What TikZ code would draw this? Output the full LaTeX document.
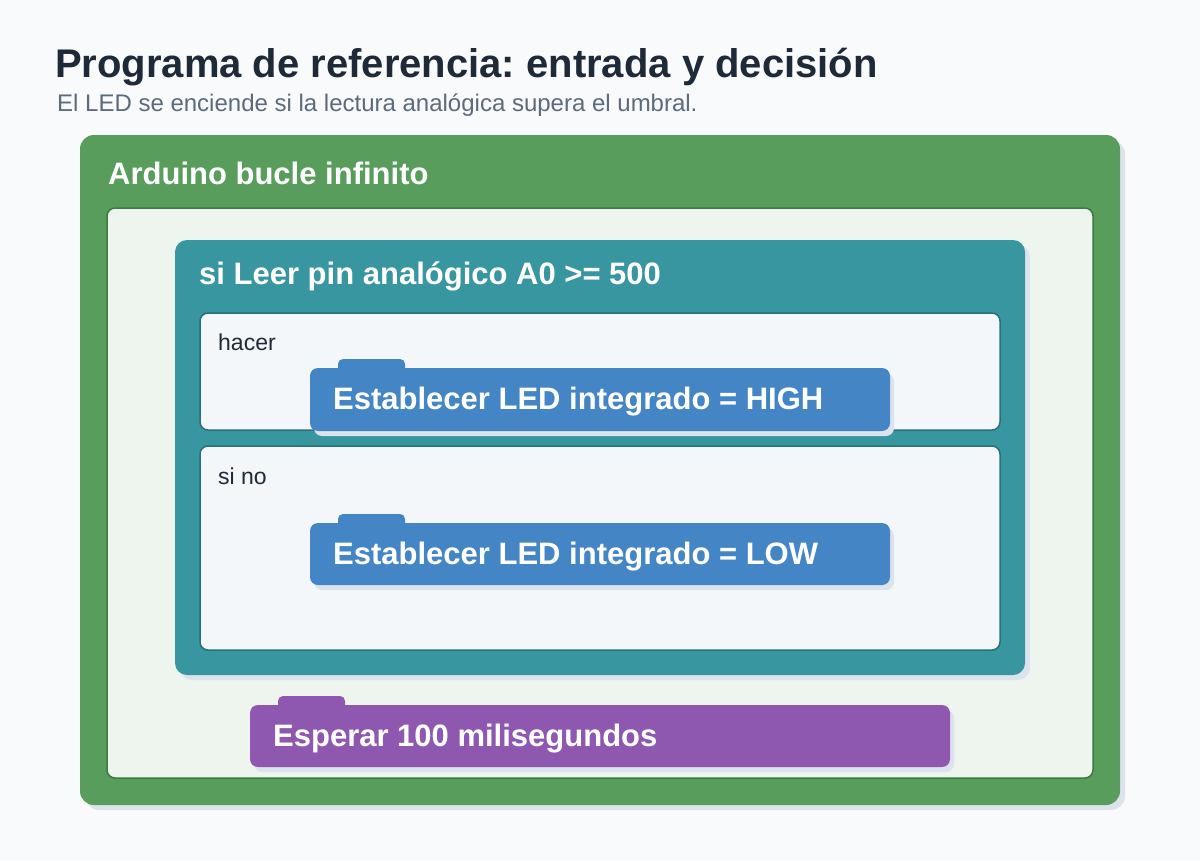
\documentclass[tikz,border=0pt]{standalone}
\usepackage{fontspec}
\setmainfont{Liberation Sans}
\usetikzlibrary{calc}
\frenchspacing

\definecolor{pagebg}{HTML}{F8FAFC}
\definecolor{titlecol}{HTML}{1E2A38}
\definecolor{subcol}{HTML}{5B6B7C}
\definecolor{loopgreen}{HTML}{589D5C}
\definecolor{loopedge}{HTML}{3D7A42}
\definecolor{loopinner}{HTML}{EDF5EE}
\definecolor{ifteal}{HTML}{37969F}
\definecolor{ifedge}{HTML}{2A7078}
\definecolor{slotfill}{HTML}{F3F7F9}
\definecolor{ledblue}{HTML}{4485C5}
\definecolor{waitpurple}{HTML}{8E58B0}
\definecolor{blockshadow}{HTML}{DDE3EC}

\tikzset{
  blocklabel/.style={font=\bfseries\fontsize{31}{35}\selectfont, text=white, anchor=base west, inner sep=0pt},
  slotlabel/.style={font=\fontsize{23}{27}\selectfont, text=titlecol, anchor=base west, inner sep=0pt}
}

% statement block with a tab: top-left, bottom-right, colour
\newcommand{\stmtblock}[3]{%
  \fill[blockshadow, rounded corners=8pt] ($(#1)+(4,5)$) rectangle ($(#2)+(4,5)$);
  \fill[#3, rounded corners=5pt] ($(#1)+(28,-9)$) rectangle ($(#1)+(95,12)$);
  \fill[#3, rounded corners=8pt] (#1) rectangle (#2);
}

\begin{document}
\begin{tikzpicture}[x=1pt, y=-1pt]
          \useasboundingbox (0,0) rectangle (1200,860);
          \fill[pagebg] (0,0) rectangle (1200,860);
          % heading
          \node[anchor=base west, inner sep=0pt, text=titlecol, font=\bfseries\fontsize{40}{44}\selectfont] (title) at (55,77) {Programa de referencia: entrada y decisión};
          \node[anchor=base west, inner sep=0pt, text=subcol, font=\fontsize{24}{28}\selectfont] (subtitle) at (57,111) {El LED se enciende si la lectura analógica supera el umbral.};
          % loop block
          \fill[blockshadow, rounded corners=14pt] (85,140) rectangle (1125,810);
          \fill[loopgreen, rounded corners=14pt] (80,135) rectangle (1120,805);
          \node[blocklabel] (looplabel) at (108,184) {Arduino bucle infinito};
          \draw[loopedge, line width=1.5pt, fill=loopinner, rounded corners=8pt] (107,208) rectangle (1093,778);
          % if block
          \fill[blockshadow, rounded corners=12pt] (180,245) rectangle (1030,680);
          \fill[ifteal, rounded corners=12pt] (175,240) rectangle (1025,675);
          \node[blocklabel] (iflabel) at (199,284) {si Leer pin analógico A0 >= 500};
          % then slot
          \draw[ifedge, line width=1.5pt, fill=slotfill, rounded corners=8pt] (200,313) rectangle (1000,430);
          \node[slotlabel] (dolabel) at (218,350) {hacer};
          \stmtblock{310,368}{890,431}{ledblue}
          \node[blocklabel] (highlabel) at (333,409) {Establecer LED integrado = HIGH};
          % else slot
          \draw[ifedge, line width=1.5pt, fill=slotfill, rounded corners=8pt] (200,446) rectangle (1000,650);
          \node[slotlabel] (elselabel) at (218,484) {si no};
          \stmtblock{310,523}{890,585}{ledblue}
          \node[blocklabel] (lowlabel) at (333,564) {Establecer LED integrado = LOW};
          % wait block
          \stmtblock{250,705}{950,767}{waitpurple}
          \node[blocklabel] (waitlabel) at (273,746) {Esperar 100 milisegundos};
        \end{tikzpicture}
\end{document}
